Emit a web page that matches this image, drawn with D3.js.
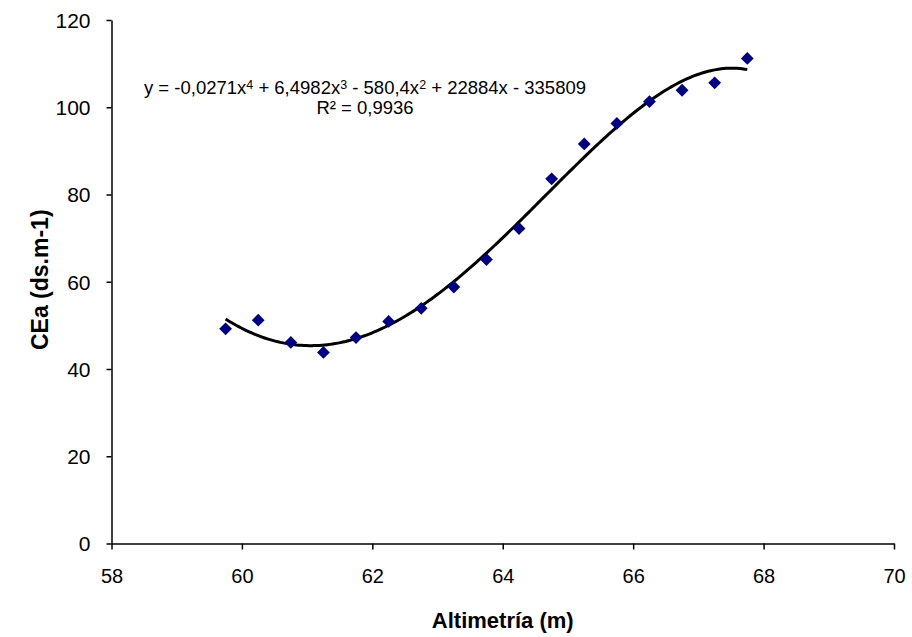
<!DOCTYPE html>
<html>
<head>
<meta charset="utf-8">
<script src="https://cdn.jsdelivr.net/npm/d3@7"></script>
<style>
  html, body { margin: 0; padding: 0; background: #fff; }
  svg { display: block; font-family: "Liberation Sans", Arial, sans-serif; }
</style>
</head>
<body>
<svg id="chart" width="912" height="637"></svg>
<script>
// ---- data ----
const altimetria = [59.75, 60.25, 60.75, 61.25, 61.75, 62.25, 62.75, 63.25, 63.75,
                    64.25, 64.75, 65.25, 65.75, 66.25, 66.75, 67.25, 67.75];
const cea = [49.2, 51.2, 46.1, 43.8, 47.2, 50.9, 53.9, 58.8, 65.1,
             72.2, 83.6, 91.6, 96.3, 101.3, 103.9, 105.6, 111.2];
const xTicks = [58, 60, 62, 64, 66, 68, 70];
const yTicks = [0, 20, 40, 60, 80, 100, 120];
const xTitle = "Altimetría (m)";
const yTitle = "CEa (ds.m-1)";
const eqLine1 = [["y = -0,0271x", false], ["4", true], [" + 6,4982x", false], ["3", true],
                 [" - 580,4x", false], ["2", true], [" + 22884x  - 335809", false]];
const eqLine2 = "R² = 0,9936";

// ---- layout ----
const svg = d3.select("#chart");
const mLeft = 111.5, mRight = 894, mTop = 20, mBottom = 543.5;
const x = d3.scaleLinear().domain([58, 70]).range([mLeft, mRight]);
const y = d3.scaleLinear().domain([0, 120]).range([mBottom, mTop]);

// ---- axes ----
const gx = svg.append("g").attr("transform", `translate(0,${mBottom})`)
  .call(d3.axisBottom(x).tickValues(xTicks).tickSize(6).tickSizeOuter(0).tickPadding(19));
const gy = svg.append("g").attr("transform", `translate(${mLeft},0)`)
  .call(d3.axisLeft(y).tickValues(yTicks).tickSize(5).tickSizeOuter(0).tickPadding(16));
[gx, gy].forEach(g => {
  g.selectAll("path, line").attr("stroke", "#000").attr("stroke-width", 1.5);
  g.selectAll("text").attr("fill", "#000").attr("font-family", "Liberation Sans, Arial, sans-serif");
});
gx.selectAll("text").attr("font-size", 20);
gy.selectAll("text").attr("font-size", 21).attr("dy", "0.35em");

// ---- axis titles ----
svg.append("text").attr("x", (mLeft + mRight) / 2).attr("y", 628)
  .attr("text-anchor", "middle").attr("font-size", 22).attr("font-weight", "bold")
  .text(xTitle);
svg.append("text").attr("transform", `translate(48,${(mTop + mBottom) / 2 - 2}) rotate(-90)`)
  .attr("text-anchor", "middle").attr("font-size", 23).attr("font-weight", "bold")
  .text(yTitle);

// ---- polynomial (order 4) least-squares trend line ----
function polyFit(xs, ys, deg) {
  const mx = d3.mean(xs);
  const n = deg + 1;
  const A = Array.from({length: n}, () => new Array(n + 1).fill(0));
  xs.forEach((xv, k) => {
    const u = xv - mx;
    for (let i = 0; i < n; i++) {
      for (let j = 0; j < n; j++) A[i][j] += Math.pow(u, i + j);
      A[i][n] += ys[k] * Math.pow(u, i);
    }
  });
  for (let c = 0; c < n; c++) {
    let p = c;
    for (let r = c + 1; r < n; r++) if (Math.abs(A[r][c]) > Math.abs(A[p][c])) p = r;
    [A[c], A[p]] = [A[p], A[c]];
    for (let r = 0; r < n; r++) {
      if (r === c) continue;
      const f = A[r][c] / A[c][c];
      for (let k = c; k <= n; k++) A[r][k] -= f * A[c][k];
    }
  }
  const coef = A.map((row, i) => row[n] / row[i]);
  return xv => coef.reduce((s, cc, i) => s + cc * Math.pow(xv - mx, i), 0);
}
const fit = polyFit(altimetria, cea, 4);
const x0 = d3.min(altimetria), x1 = d3.max(altimetria);
const trend = d3.range(0, 201).map(i => {
  const xv = x0 + (x1 - x0) * i / 200;
  return [xv, fit(xv)];
});
svg.append("path").datum(trend)
  .attr("fill", "none").attr("stroke", "#000").attr("stroke-width", 3)
  .attr("d", d3.line().x(d => x(d[0])).y(d => y(d[1])));

// ---- markers ----
const diamond = d3.symbol().type(d3.symbolSquare).size(82);
svg.append("g").selectAll("path").data(altimetria).join("path")
  .attr("d", diamond)
  .attr("transform", (d, i) => `translate(${x(d)},${y(cea[i])}) rotate(45)`)
  .attr("fill", "#000080");

// ---- equation ----
const eq = svg.append("text").attr("x", 365).attr("y", 94)
  .attr("text-anchor", "middle").attr("font-size", 18.5).attr("fill", "#000");
eqLine1.forEach(([t, sup]) => {
  eq.append("tspan").text(t)
    .attr("font-size", sup ? 12.5 : 18.5)
    .attr("baseline-shift", sup ? "40%" : null);
});
svg.append("text").attr("x", 365).attr("y", 114)
  .attr("text-anchor", "middle").attr("font-size", 18.5).attr("fill", "#000")
  .text(eqLine2);
</script>
</body>
</html>
